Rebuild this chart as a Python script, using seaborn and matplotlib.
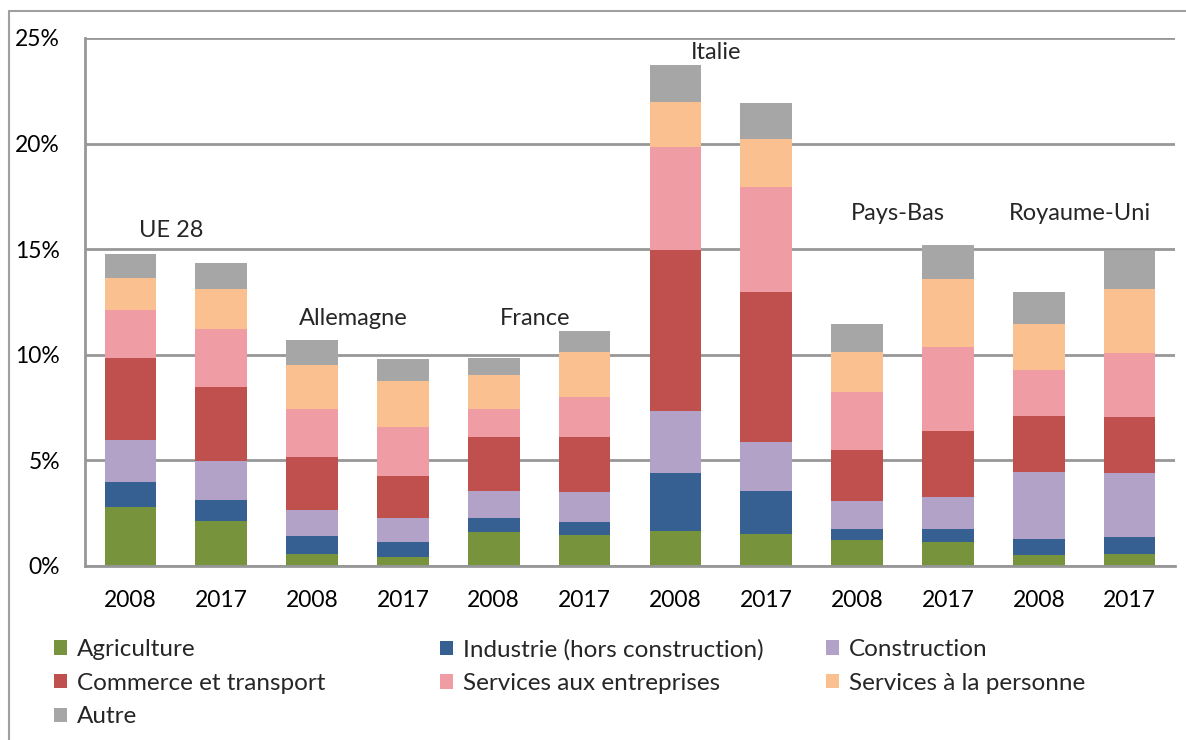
import numpy as np
import pandas as pd
import seaborn as sns
import matplotlib.pyplot as plt
from matplotlib.patches import Patch
from matplotlib.lines import Line2D
from matplotlib.ticker import FuncFormatter

# data (share of employment, %)
countries = ["UE 28", "Allemagne", "France", "Italie", "Pays-Bas", "Royaume-Uni"]
years = ["2008", "2017"]
sectors = ["Agriculture", "Industrie (hors construction)", "Construction",
           "Commerce et transport", "Services aux entreprises",
           "Services à la personne", "Autre"]

agriculture = [2.79, 2.13, 0.58, 0.44, 1.61, 1.48, 1.65, 1.51, 1.23, 1.12, 0.50, 0.57]
industrie = [1.17, 1.01, 0.86, 0.71, 0.66, 0.60, 2.73, 2.02, 0.54, 0.65, 0.79, 0.80]
construction = [2.00, 1.83, 1.19, 1.13, 1.30, 1.42, 2.96, 2.35, 1.31, 1.48, 3.17, 3.03]
commerce = [3.91, 3.52, 2.54, 1.97, 2.54, 2.61, 7.63, 7.07, 2.42, 3.14, 2.64, 2.65]
serv_entreprises = [2.23, 2.71, 2.27, 2.33, 1.32, 1.87, 4.85, 5.01, 2.75, 3.99, 2.19, 3.03]
serv_personne = [1.54, 1.92, 2.09, 2.19, 1.61, 2.13, 2.14, 2.28, 1.86, 3.20, 2.15, 3.03]
autre = [1.11, 1.25, 1.16, 1.03, 0.82, 1.01, 1.77, 1.68, 1.33, 1.64, 1.51, 1.80]

colors = ["#77933C", "#376092", "#B3A2C7", "#C0504D", "#EF9CA4", "#FAC090", "#A6A6A6"]

# where the country names sit (in % on the y axis)
label_y = [15.9, 11.7, 11.7, 24.3, 16.7, 16.7]

series = [agriculture, industrie, construction, commerce,
          serv_entreprises, serv_personne, autre]
bar_ids = [str(i) for i in range(len(countries) * len(years))]
year_labels = years * len(countries)

df = pd.DataFrame(np.array(series).T, columns=sectors)
df["bar"] = bar_ids
cum = df[sectors].cumsum(axis=1)
cum["bar"] = bar_ids

sns.set_style("white")
plt.rcParams["font.family"] = ["Lato", "DejaVu Sans"]

fig = plt.figure(figsize=(11.86, 7.40), dpi=100)
ax = fig.add_axes([85 / 1186, 1 - 566 / 740, 1090 / 1186, 528 / 740])

# stacked bars: draw cumulative totals from the top down
for sector, col in reversed(list(zip(sectors, colors))):
    sns.barplot(data=cum, x="bar", y=sector, order=bar_ids, color=col,
                saturation=1, width=0.57, errorbar=None, linewidth=0, ax=ax)

ax.set_xlim(-0.5, len(bar_ids) - 0.5)
ax.set_ylim(0, 25)
ax.set_yticks([0, 5, 10, 15, 20, 25])
ax.yaxis.set_major_formatter(FuncFormatter(lambda v, p: f"{v:.0f}%"))
ax.set_xticks(range(len(bar_ids)))
ax.set_xticklabels(year_labels)
ax.set_xlabel("")
ax.set_ylabel("")
ax.tick_params(axis="both", length=0, labelsize=16.5, colors="black")
ax.tick_params(axis="y", pad=18)
ax.tick_params(axis="x", pad=17)
ax.grid(axis="y", color="#979797", linewidth=2)
ax.set_axisbelow(True)
for s in ["top", "right"]:
    ax.spines[s].set_visible(False)
for s in ["left", "bottom"]:
    ax.spines[s].set_color("#979797")
    ax.spines[s].set_linewidth(2)

for i, (name, y) in enumerate(zip(countries, label_y)):
    ax.text(2 * i + 0.45, y, name, ha="center", va="center", fontsize=17)

# legend in three columns, Excel-style placement
handles = [Patch(facecolor=c, edgecolor="none") for c in colors]
cols = [[0, 3, 6], [1, 4], [2, 5]]
col_x = [54 / 1186, 440 / 1186, 826 / 1186]
for idx, x0 in zip(cols, col_x):
    leg = fig.legend([handles[i] for i in idx], [sectors[i] for i in idx],
                     loc="upper left", bbox_to_anchor=(x0, 1 - 639 / 740),
                     frameon=False, fontsize=17.5, handlelength=0.53,
                     handleheight=0.53, handletextpad=0.42, labelspacing=0.52,
                     borderaxespad=0, borderpad=0)

# outer chart frame
fig.add_artist(Line2D([9 / 1186, 1], [1 - 11 / 740, 1 - 11 / 740],
                      color="#A0A0A0", linewidth=1.5, transform=fig.transFigure))
fig.add_artist(Line2D([9 / 1186, 9 / 1186], [0, 1 - 11 / 740],
                      color="#A0A0A0", linewidth=1.5, transform=fig.transFigure))

fig.savefig("out.png", dpi=100)
